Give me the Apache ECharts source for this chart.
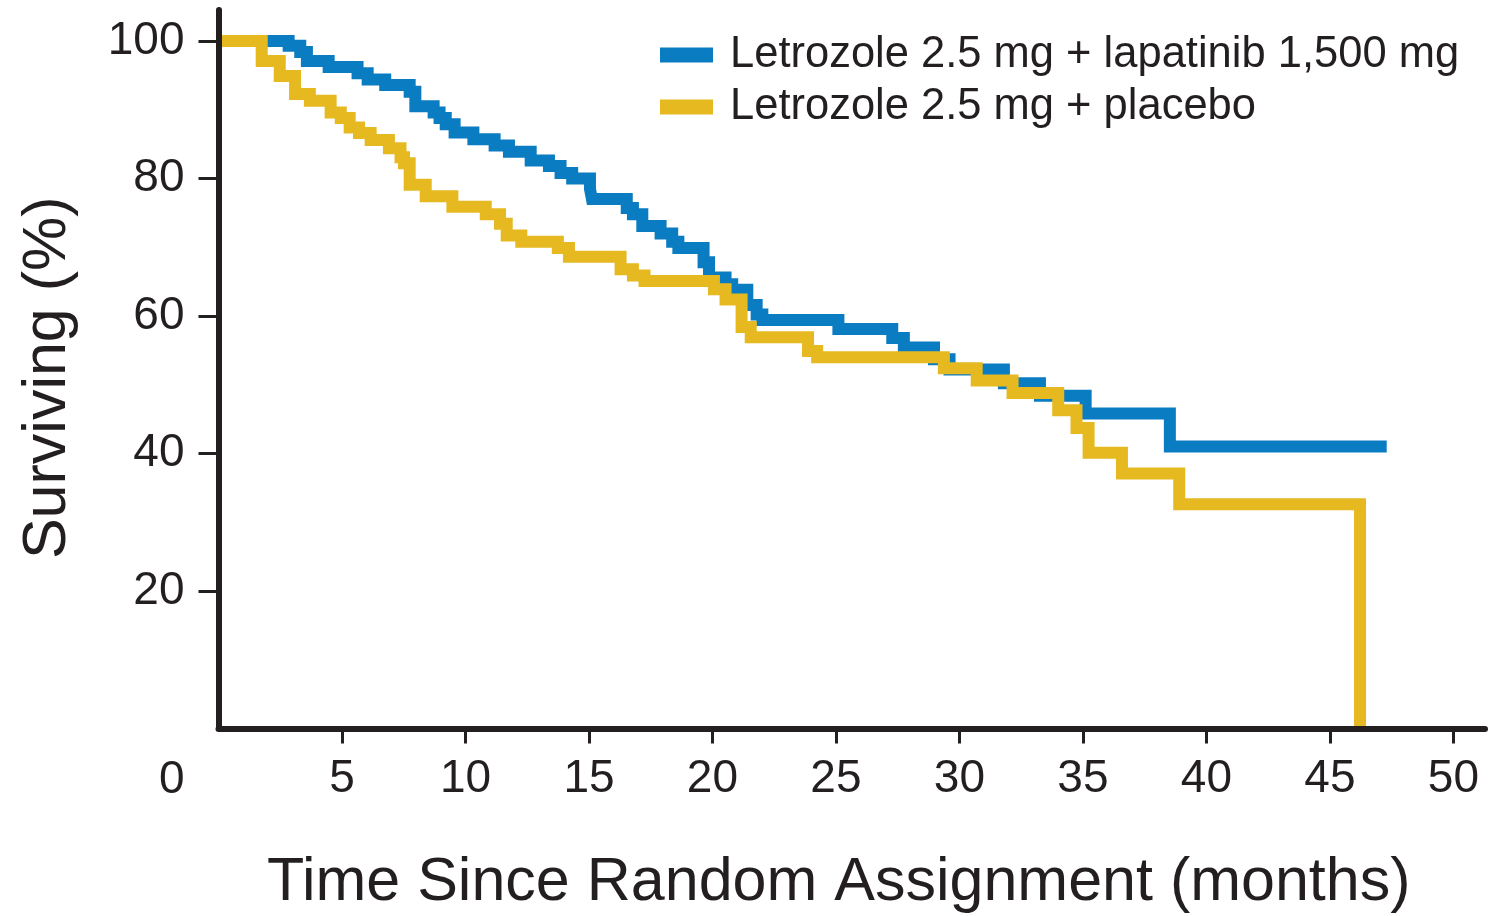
<!DOCTYPE html>
<html>
<head>
<meta charset="utf-8">
<script src="https://cdn.jsdelivr.net/npm/echarts@6/dist/echarts.min.js"></script>
<style>
html,body{margin:0;padding:0;background:#fff;}
#chart{width:1491px;height:916px;}
</style>
</head>
<body>
<div id="chart"></div>
<script>
// Kaplan-Meier step data (time in months, surviving %)
const lapTime = [0, 2.84, 3.31, 3.58, 4.46, 5.63, 6.04, 6.75, 7.74, 7.97, 8.71, 8.95, 9.20, 9.56, 10.32, 11.18, 11.76, 12.64, 13.38, 13.85, 14.32, 15.04, 15.12, 16.53, 16.78, 17.16, 17.9, 18.37, 18.62, 19.64, 19.86, 20.53, 20.80, 21.41, 21.79, 22.02, 25.1, 27.28, 27.75, 28.97, 29.6, 31.8, 33.26, 35.11, 38.52, 47.3];
const lapValue = [100, 99.3, 98.4, 97.1, 96.2, 95.3, 94.4, 93.6, 92.6, 90.5, 89.6, 88.8, 87.9, 86.7, 85.7, 84.8, 83.9, 82.6, 81.8, 80.8, 80.0, 78.5, 77.0, 75.7, 74.8, 73.1, 72.0, 70.8, 69.9, 67.8, 65.6, 64.6, 63.8, 61.6, 60.2, 59.4, 58.1, 56.8, 55.4, 53.7, 52.2, 50.2, 48.4, 45.8, 41.0, 41.0];

const plaTime = [0, 1.75, 2.48, 3.10, 3.70, 4.54, 4.95, 5.31, 5.69, 6.16, 6.90, 7.37, 7.51, 7.74, 8.39, 9.47, 10.82, 11.40, 11.67, 12.26, 13.74, 14.19, 16.28, 16.78, 17.25, 20.06, 20.53, 21.18, 21.55, 23.87, 24.24, 29.37, 30.7, 32.15, 34.0, 34.74, 35.23, 36.58, 38.9, 46.22];
const plaValue = [100, 97.1, 94.9, 92.3, 91.3, 89.6, 88.8, 87.4, 86.6, 85.6, 84.4, 83.1, 82.2, 79.1, 77.4, 75.9, 74.8, 73.4, 71.7, 70.8, 69.9, 68.6, 66.8, 65.9, 65.1, 63.9, 62.4, 58.4, 56.9, 54.9, 54.0, 52.4, 50.6, 48.8, 46.3, 43.7, 40.1, 37.1, 32.6, 0];

const seriesNames = ['Letrozole 2.5 mg + lapatinib 1,500 mg', 'Letrozole 2.5 mg + placebo'];
const xTicks = [5, 10, 15, 20, 25, 30, 35, 40, 45, 50];
const yTicks = [20, 40, 60, 80, 100];
const xTitle = 'Time Since Random Assignment (months)';
const yTitle = 'Surviving (%)';
const originLabel = '0';

const BLUE = '#0a7cc1';
const YELLOW = '#e6b921';
const INK = '#231f20';
const FONT = '"Liberation Sans", Arial, sans-serif';

const pairs = (xs, ys) => xs.map((x, i) => [x, ys[i]]);

const chart = echarts.init(document.getElementById('chart'), null, {renderer: 'canvas'});
chart.setOption({
  animation: false,
  backgroundColor: '#fff',
  grid: {left: 218.5, right: 6, top: 10, bottom: 187.5, containLabel: false, outerBoundsMode: 'none'},
  legend: {
    orient: 'vertical',
    left: 655, top: 28,
    icon: 'rect',
    itemWidth: 53, itemHeight: 15,
    itemGap: 8,
    textStyle: {fontFamily: FONT, fontSize: 43.5, color: INK, lineHeight: 44, padding: [0, 0, 0, 12]},
    data: seriesNames
  },
  xAxis: {
    type: 'value', min: 0, max: 51.28,
    z: 5,
    axisLine: {show: true, lineStyle: {color: INK, width: 6}},
    axisTick: {show: true, customValues: xTicks, length: 15, lineStyle: {color: INK, width: 3}},
    axisLabel: {customValues: xTicks, margin: 28, fontFamily: FONT, fontSize: 46, color: INK},
    splitLine: {show: false},
    name: xTitle, nameLocation: 'middle', nameGap: 124,
    nameTextStyle: {fontFamily: FONT, fontSize: 61, color: INK, padding: [0, 26, 0, 0]}
  },
  yAxis: {
    type: 'value', min: 0, max: 104.5,
    z: 5,
    axisLine: {show: true, lineStyle: {color: INK, width: 6}},
    axisTick: {show: true, customValues: yTicks, length: 20, lineStyle: {color: INK, width: 3}},
    axisLabel: {customValues: yTicks, margin: 34, fontFamily: FONT, fontSize: 46, color: INK},
    splitLine: {show: false},
    name: yTitle, nameLocation: 'middle', nameGap: 140, nameRotate: 90,
    nameTextStyle: {fontFamily: FONT, fontSize: 61, color: INK, padding: [0, 17, 0, 0]}
  },
  graphic: [{
    type: 'text', left: 159, top: 757,
    style: {text: originLabel, fontFamily: FONT, fontSize: 46, fill: INK}
  }],
  series: [
    {
      name: seriesNames[0], type: 'line', step: 'end', data: pairs(lapTime, lapValue),
      symbol: 'none', clip: false, z: 2,
      itemStyle: {color: BLUE},
      lineStyle: {color: BLUE, width: 12, cap: 'butt', join: 'miter'}
    },
    {
      name: seriesNames[1], type: 'line', step: 'end', data: pairs(plaTime, plaValue),
      symbol: 'none', clip: false, z: 3,
      itemStyle: {color: YELLOW},
      lineStyle: {color: YELLOW, width: 12, cap: 'butt', join: 'miter'}
    }
  ]
});
</script>
</body>
</html>
